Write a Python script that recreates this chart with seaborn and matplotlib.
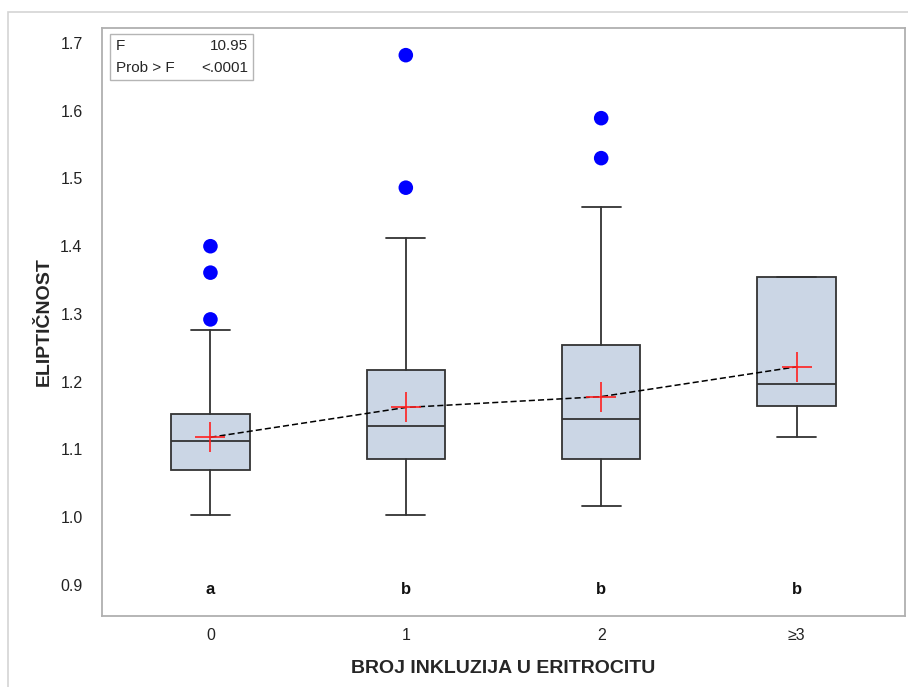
import matplotlib
matplotlib.use('Agg')
import matplotlib.pyplot as plt
import matplotlib.patches as mpatches
import seaborn as sns
import pandas as pd

# Podaci (ocitani sa slike)
groups = ['0', '1', '2', '≥3']
whisker_low = [1.003, 1.003, 1.017, 1.118]
q1 = [1.070, 1.0855, 1.0855, 1.164]
medians = [1.1125, 1.134, 1.1455, 1.197]
q3 = [1.153, 1.217, 1.254, 1.3546]
whisker_high = [1.2764, 1.412, 1.4584, 1.3546]
means = [1.118, 1.162, 1.178, 1.222]
outliers = [[1.400, 1.361, 1.292], [1.682, 1.4864], [1.589, 1.530], []]
letters = ['a', 'b', 'b', 'b']
letter_y = 0.8926

sns.set_style('white')
plt.rcParams['font.family'] = ['Liberation Sans', 'DejaVu Sans']

fig = plt.figure(figsize=(9.08, 6.87), dpi=100)
ax = fig.add_axes([102 / 908, 1 - 616 / 687, 803 / 908, 588 / 687])

# okvir oko cijele slike
fig.patches.append(mpatches.Rectangle((8 / 908, -0.05), 1.0, 1 - 12 / 687 + 0.05,
                                      transform=fig.transFigure, fill=False,
                                      edgecolor='#d4d4d4', lw=1.2))

stats = []
for i, g in enumerate(groups):
    stats.append({'label': g, 'whislo': whisker_low[i], 'q1': q1[i], 'med': medians[i],
                  'q3': q3[i], 'whishi': whisker_high[i], 'fliers': []})

line_col = '#333333'
ax.bxp(stats, positions=range(len(groups)), widths=0.4, patch_artist=True,
       showfliers=False, capwidths=0.2,
       boxprops=dict(facecolor='#cbd6e5', edgecolor=line_col, lw=1.3),
       medianprops=dict(color=line_col, lw=1.3),
       whiskerprops=dict(color=line_col, lw=1.3),
       capprops=dict(color=line_col, lw=1.3))

# outlieri
out_df = pd.DataFrame([(i, v) for i, vals in enumerate(outliers) for v in vals], columns=['x', 'y'])
sns.scatterplot(data=out_df, x='x', y='y', ax=ax, color='#0000ff', s=110, edgecolor='none', zorder=4)

# srednje vrijednosti
mean_df = pd.DataFrame({'x': range(len(groups)), 'y': means})
sns.lineplot(data=mean_df, x='x', y='y', ax=ax, color='black', lw=1.1, linestyle=(0, (4, 2)), zorder=5)
sns.scatterplot(data=mean_df, x='x', y='y', ax=ax, marker='+', s=450, color='#ff2020',
                linewidth=1.2, zorder=6)

for i, l in enumerate(letters):
    ax.text(i, letter_y, l, ha='center', va='center', fontsize=12, fontweight='bold', color='#111111')

# F test okvir
ax.add_patch(mpatches.Rectangle((0.010, 0.9116), 0.178, 0.0784, transform=ax.transAxes,
                                fill=True, facecolor='white', edgecolor='#b5b5b5', lw=1, zorder=7))
ax.text(0.0174, 0.969, 'F', transform=ax.transAxes, ha='left', va='center', fontsize=11, zorder=8)
ax.text(0.1818, 0.969, '10.95', transform=ax.transAxes, ha='right', va='center', fontsize=11, zorder=8)
ax.text(0.0174, 0.932, 'Prob > F', transform=ax.transAxes, ha='left', va='center', fontsize=11, zorder=8)
ax.text(0.1818, 0.932, '<.0001', transform=ax.transAxes, ha='right', va='center', fontsize=11, zorder=8)

ax.set_xlim(-0.555, 3.555)
ax.set_ylim(0.8542, 1.7221)
ax.set_xticks(range(len(groups)))
ax.set_xticklabels(groups)
ax.set_yticks([0.9, 1.0, 1.1, 1.2, 1.3, 1.4, 1.5, 1.6, 1.7])
ax.set_yticklabels(['0.9', '1.0', '1.1', '1.2', '1.3', '1.4', '1.5', '1.6', '1.7'])
ax.tick_params(axis='both', length=0, labelsize=11.5, colors='#222222')
ax.tick_params(axis='y', pad=14)
ax.tick_params(axis='x', pad=9)
ax.set_xlabel('BROJ INKLUZIJA U ERITROCITU', fontsize=14, fontweight='bold', labelpad=12)
ax.set_ylabel('ELIPTIČNOST', fontsize=14, fontweight='bold', labelpad=5)
for s in ax.spines.values():
    s.set_color('#b0b0b0')
    s.set_linewidth(1.3)

fig.savefig('out.png', dpi=100)
